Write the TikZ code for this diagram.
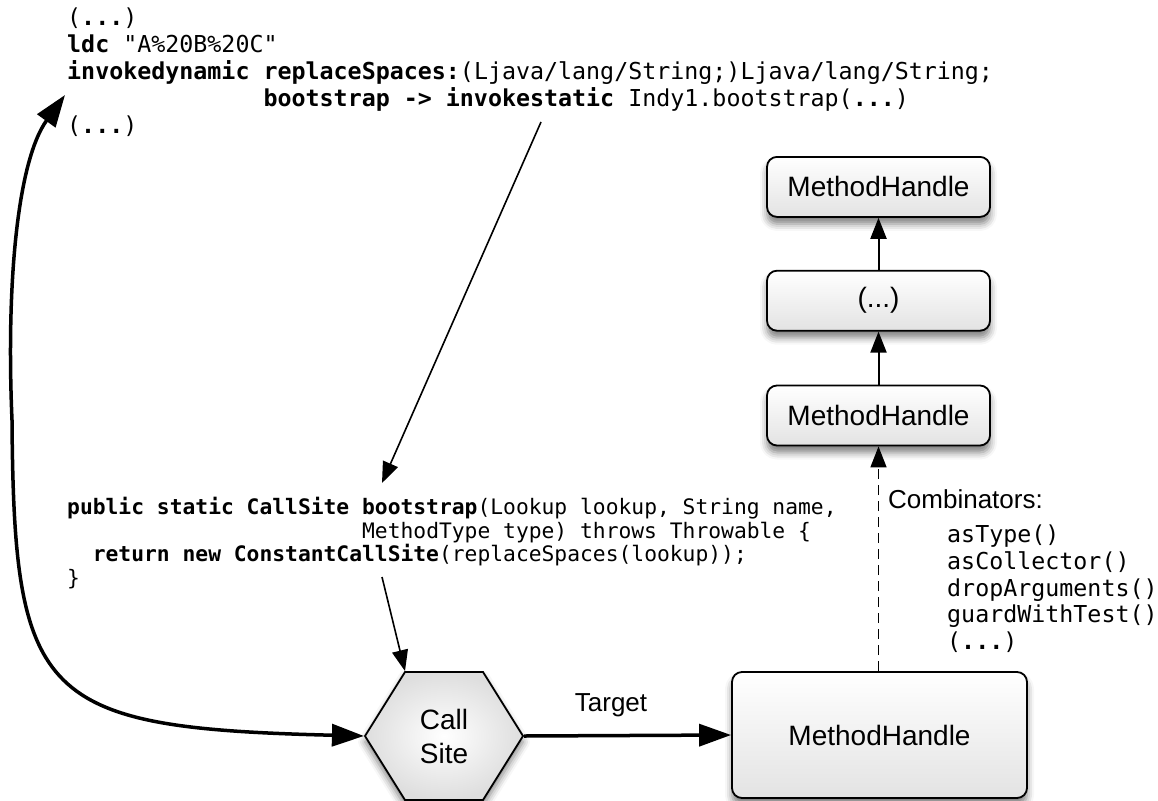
\documentclass[tikz,border=0pt]{standalone}
\usepackage{fontspec}
\setsansfont{Liberation Sans}
\setmonofont{DejaVu Sans Mono}
\usepackage{tikz}
\usetikzlibrary{positioning,arrows.meta,shapes.symbols,shadows.blur}
\newcommand{\ind}[1]{\hspace*{#1\fontcharwd\font`m}}
\tikzset{
  handle/.style={draw, line width=1.8pt, rounded corners=10pt,
                 top color=white, bottom color=black!11,
                 blur shadow={shadow xshift=0pt, shadow yshift=-7pt, shadow blur radius=7pt, shadow opacity=50},
                 minimum width=223pt, minimum height=60pt,
                 font=\sffamily\fontsize{28}{32}\selectfont},
  hexnode/.style={signal, signal to=east and west, signal pointer angle=116,
                  draw, line width=1.8pt, inner color=white, outer color=black!13,
                  blur shadow={shadow xshift=0pt, shadow yshift=-6pt, shadow blur radius=7pt, shadow opacity=50},
                  minimum width=158pt, minimum height=128pt, align=center,
                  font=\sffamily\fontsize{28}{34}\selectfont},
  code/.style={inner sep=0pt, align=left, font=\ttfamily\fontsize{23.3}{27}\selectfont},
  txt/.style={inner sep=0pt, font=\sffamily\fontsize{26}{30}\selectfont},
  fwd/.style={-{Triangle[length=21pt,width=16pt]}, line width=1.6pt},
  heavy/.style={line width=3.5pt, >={Triangle[length=32pt,width=22pt]}},
  combi/.style={fwd, dash pattern=on 10pt off 6pt},
}

\begin{document}
\begin{tikzpicture}[x=1pt, y=-1pt]
  \useasboundingbox (0,0) rectangle (1158,800);

  % bytecode of the call site
  \node[code, anchor=north west] (bytecode) at (67,8) {%
    (\textbf{...})\\
    \textbf{ldc} "A\%20B\%20C"\\
    \textbf{invokedynamic replaceSpaces:}(Ljava/lang/String;)Ljava/lang/String;\\
    \ind{14}\textbf{bootstrap -> invokestatic} Indy1.bootstrap(\textbf{...})\\
    (\textbf{...})};

  % bootstrap method
  \node[code, anchor=north west, font=\ttfamily\fontsize{21.3}{23.7}\selectfont] (bsm) at (67,497) {%
    \textbf{public static CallSite bootstrap}(Lookup lookup, String name,\\
    \ind{23}MethodType type) throws Throwable \{\\
    \ind{2}\textbf{return new ConstantCallSite}(replaceSpaces(lookup));\\
    \}};

  \node[hexnode] (callsite) at (444,736) {Call\\Site};
  \node[handle, minimum width=295pt, minimum height=126pt] (bigmh) at (879.5,735) {MethodHandle};

  \node[handle] (midmh) at (878.5,415.5) {MethodHandle};
  \node[handle] (dots) [above=53pt of midmh] {(...)};
  \node[handle] (topmh) [above=52pt of dots] {MethodHandle};

  \node[txt, anchor=base west] (combi) at (888,508) {Combinators:};
  \node[code, anchor=north west, font=\ttfamily\fontsize{23.3}{26.7}\selectfont] (ops) at (947,525) {%
    asType()\\
    asCollector()\\
    dropArguments()\\
    guardWithTest()\\
    (\textbf{...})};

  \coordinate (indytip) at (65,95);
  \coordinate (indyref) at (541,122);
  \coordinate (bsmref) at (382,483);
  \coordinate (retref) at (382,577);

  \draw[fwd] (indyref) -- (bsmref);
  \draw[fwd] (retref) -- ([xshift=-39pt]callsite.north);
  \draw[heavy, <->] (callsite.west) .. controls (40,728) and (14,700) .. (12,420)
    .. controls (6,280) and (18,160) .. (indytip);
  \draw[heavy, ->] (callsite.east) -- (bigmh.west)
    node[txt, pos=.42, above=17pt] {Target};
  \draw[combi] (midmh.south |- bigmh.north) -- (midmh.south);
  \draw[fwd, line width=2pt] (midmh.north) -- (dots.south);
  \draw[fwd, line width=2pt] (dots.north) -- (topmh.south);
\end{tikzpicture}
\end{document}
